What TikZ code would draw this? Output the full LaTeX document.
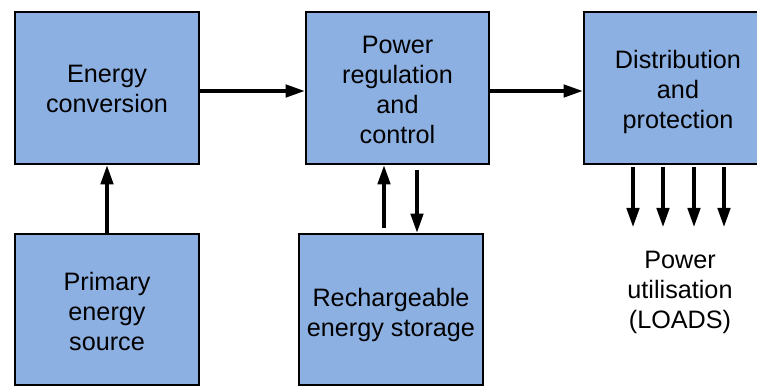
\documentclass[tikz,border=0pt]{standalone}
\usepackage{fontspec}
\setmainfont{Liberation Sans}
\usetikzlibrary{arrows.meta}
\definecolor{boxblue}{RGB}{141,176,226}
\begin{document}
\begin{tikzpicture}[x=1pt,y=-1pt,
  blk/.style={draw=black, line width=2.7pt, fill=boxblue, inner sep=0pt},
  txt/.style={align=center, inner sep=0pt, font=\fontsize{25.2}{30}\selectfont},
  arr/.style={line width=3.1pt, -{Triangle[length=19pt,width=12.5pt]}}]
\useasboundingbox (0,0) rectangle (757,387);
\clip (0,0) rectangle (757,387);
\node[blk, minimum width=184pt, minimum height=152pt] (ec) at (107,88) {};
\node[blk, minimum width=183pt, minimum height=152pt] (pr) at (397.5,88) {};
\node[blk, minimum width=188pt, minimum height=152pt] (dp) at (678,88) {};
\node[blk, minimum width=184pt, minimum height=151pt] (ps) at (107,309.5) {};
\node[blk, minimum width=184pt, minimum height=151pt] (rs) at (391,309.5) {};
\node[txt] (ect) at ([yshift=-1pt]ec.center) {Energy\\conversion};
\node[txt] (prt) at ([yshift=-1.5pt]pr.center) {Power\\regulation\\and\\control};
\node[txt] (dpt) at ([yshift=-4pt]dp.center) {Distribution\\and\\protection};
\node[txt] (pst) at ([yshift=-2pt]ps.center) {Primary\\energy\\source};
\node[txt] (rst) at ([yshift=-5pt]rs.center) {Rechargeable\\energy storage};
\node[txt] (loads) at (680,292) {Power\\utilisation\\(LOADS)};
\draw[arr] ([yshift=-3pt]ec.east) -- ([yshift=-3pt]ec.east -| pr.west);
\draw[arr] ([yshift=-3pt]pr.east) -- ([yshift=-3pt]pr.east -| dp.west);
\draw[arr] (ps.north) -- (ec.south);
\draw[arr] ([yshift=5pt]rs.north -| 384,0) -- (pr.south -| 384,0);
\draw[arr] ([yshift=-5pt]pr.south -| 417,0) -- (rs.north -| 417,0);
\coordinate (lt) at (678,227);
\foreach \xx in {633,663,694,724}{
  \draw[arr] ([yshift=-2pt]dp.south -| \xx,0) -- (lt -| \xx,0);
}
\end{tikzpicture}
\end{document}
